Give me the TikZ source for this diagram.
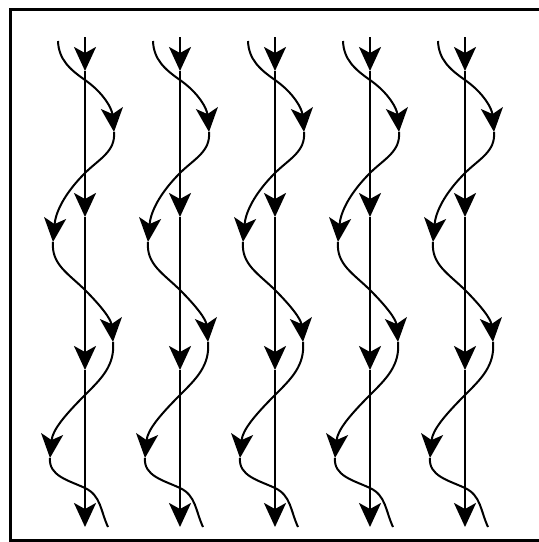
\documentclass[tikz,border=0pt]{standalone}
\usetikzlibrary{arrows.meta}
\begin{document}
\begin{tikzpicture}[x=1pt,y=1pt,
  bighead/.tip={Stealth[length=24pt,width=22pt,inset=6pt]},
  vline/.style={line width=2.3pt,-bighead},
  wave/.style={line width=2pt},
  wavearrow/.style={line width=2pt,-bighead},
  frame/.style={line width=3pt}]
\useasboundingbox (0,0) rectangle (539,-542);
\clip (0,0) rectangle (539,-542);
\fill[white] (0,0) rectangle (539,-542);
\draw[frame] (10,-9) rectangle (570,-540);
\foreach \cx [count=\i] in {85,180,275,370,465} {
  \begin{scope}[xshift=\cx pt]
    % vertical line with four heads
    \coordinate (t\i) at (0,-37);
    \coordinate (va\i) at (0,-71);
    \coordinate (vb\i) at (0,-217);
    \coordinate (vc\i) at (0,-370);
    \coordinate (vd\i) at (0,-527);
    \draw[vline] (t\i) -- (va\i);
    \draw[vline] (va\i) -- (vb\i);
    \draw[vline] (vb\i) -- (vc\i);
    \draw[vline] (vc\i) -- (vd\i);
    % wavy line
    \coordinate (s\i) at (-27,-41);
    \coordinate (ca\i) at (0,-80);
    \coordinate (ra\i) at (29,-132);
    \coordinate (cb\i) at (0,-173);
    \coordinate (la\i) at (-32,-242);
    \coordinate (cc\i) at (0,-290);
    \coordinate (rb\i) at (28,-342);
    \coordinate (cd\i) at (0,-395);
    \coordinate (lb\i) at (-35,-458);
    \coordinate (ce\i) at (0,-488);
    \coordinate (e\i) at (23,-527);
    \draw[wave] (s\i) to[out=-88,in=145] (ca\i);
    \draw[wavearrow] (ca\i) to[out=-35,in=95] (ra\i);
    \draw[wave] (ra\i) to[out=-85,in=45] (cb\i);
    \draw[wavearrow] (cb\i) to[out=225,in=85] (la\i);
    \draw[wave] (la\i) to[out=-95,in=135] (cc\i);
    \draw[wavearrow] (cc\i) to[out=-45,in=95] (rb\i);
    \draw[wave] (rb\i) to[out=-85,in=45] (cd\i);
    \draw[wavearrow] (cd\i) to[out=225,in=85] (lb\i);
    \draw[wave] (lb\i) to[out=-95,in=155] (ce\i);
    \draw[wave] (ce\i) to[out=-25,in=115] (e\i);
  \end{scope}
}
\end{tikzpicture}
\end{document}
